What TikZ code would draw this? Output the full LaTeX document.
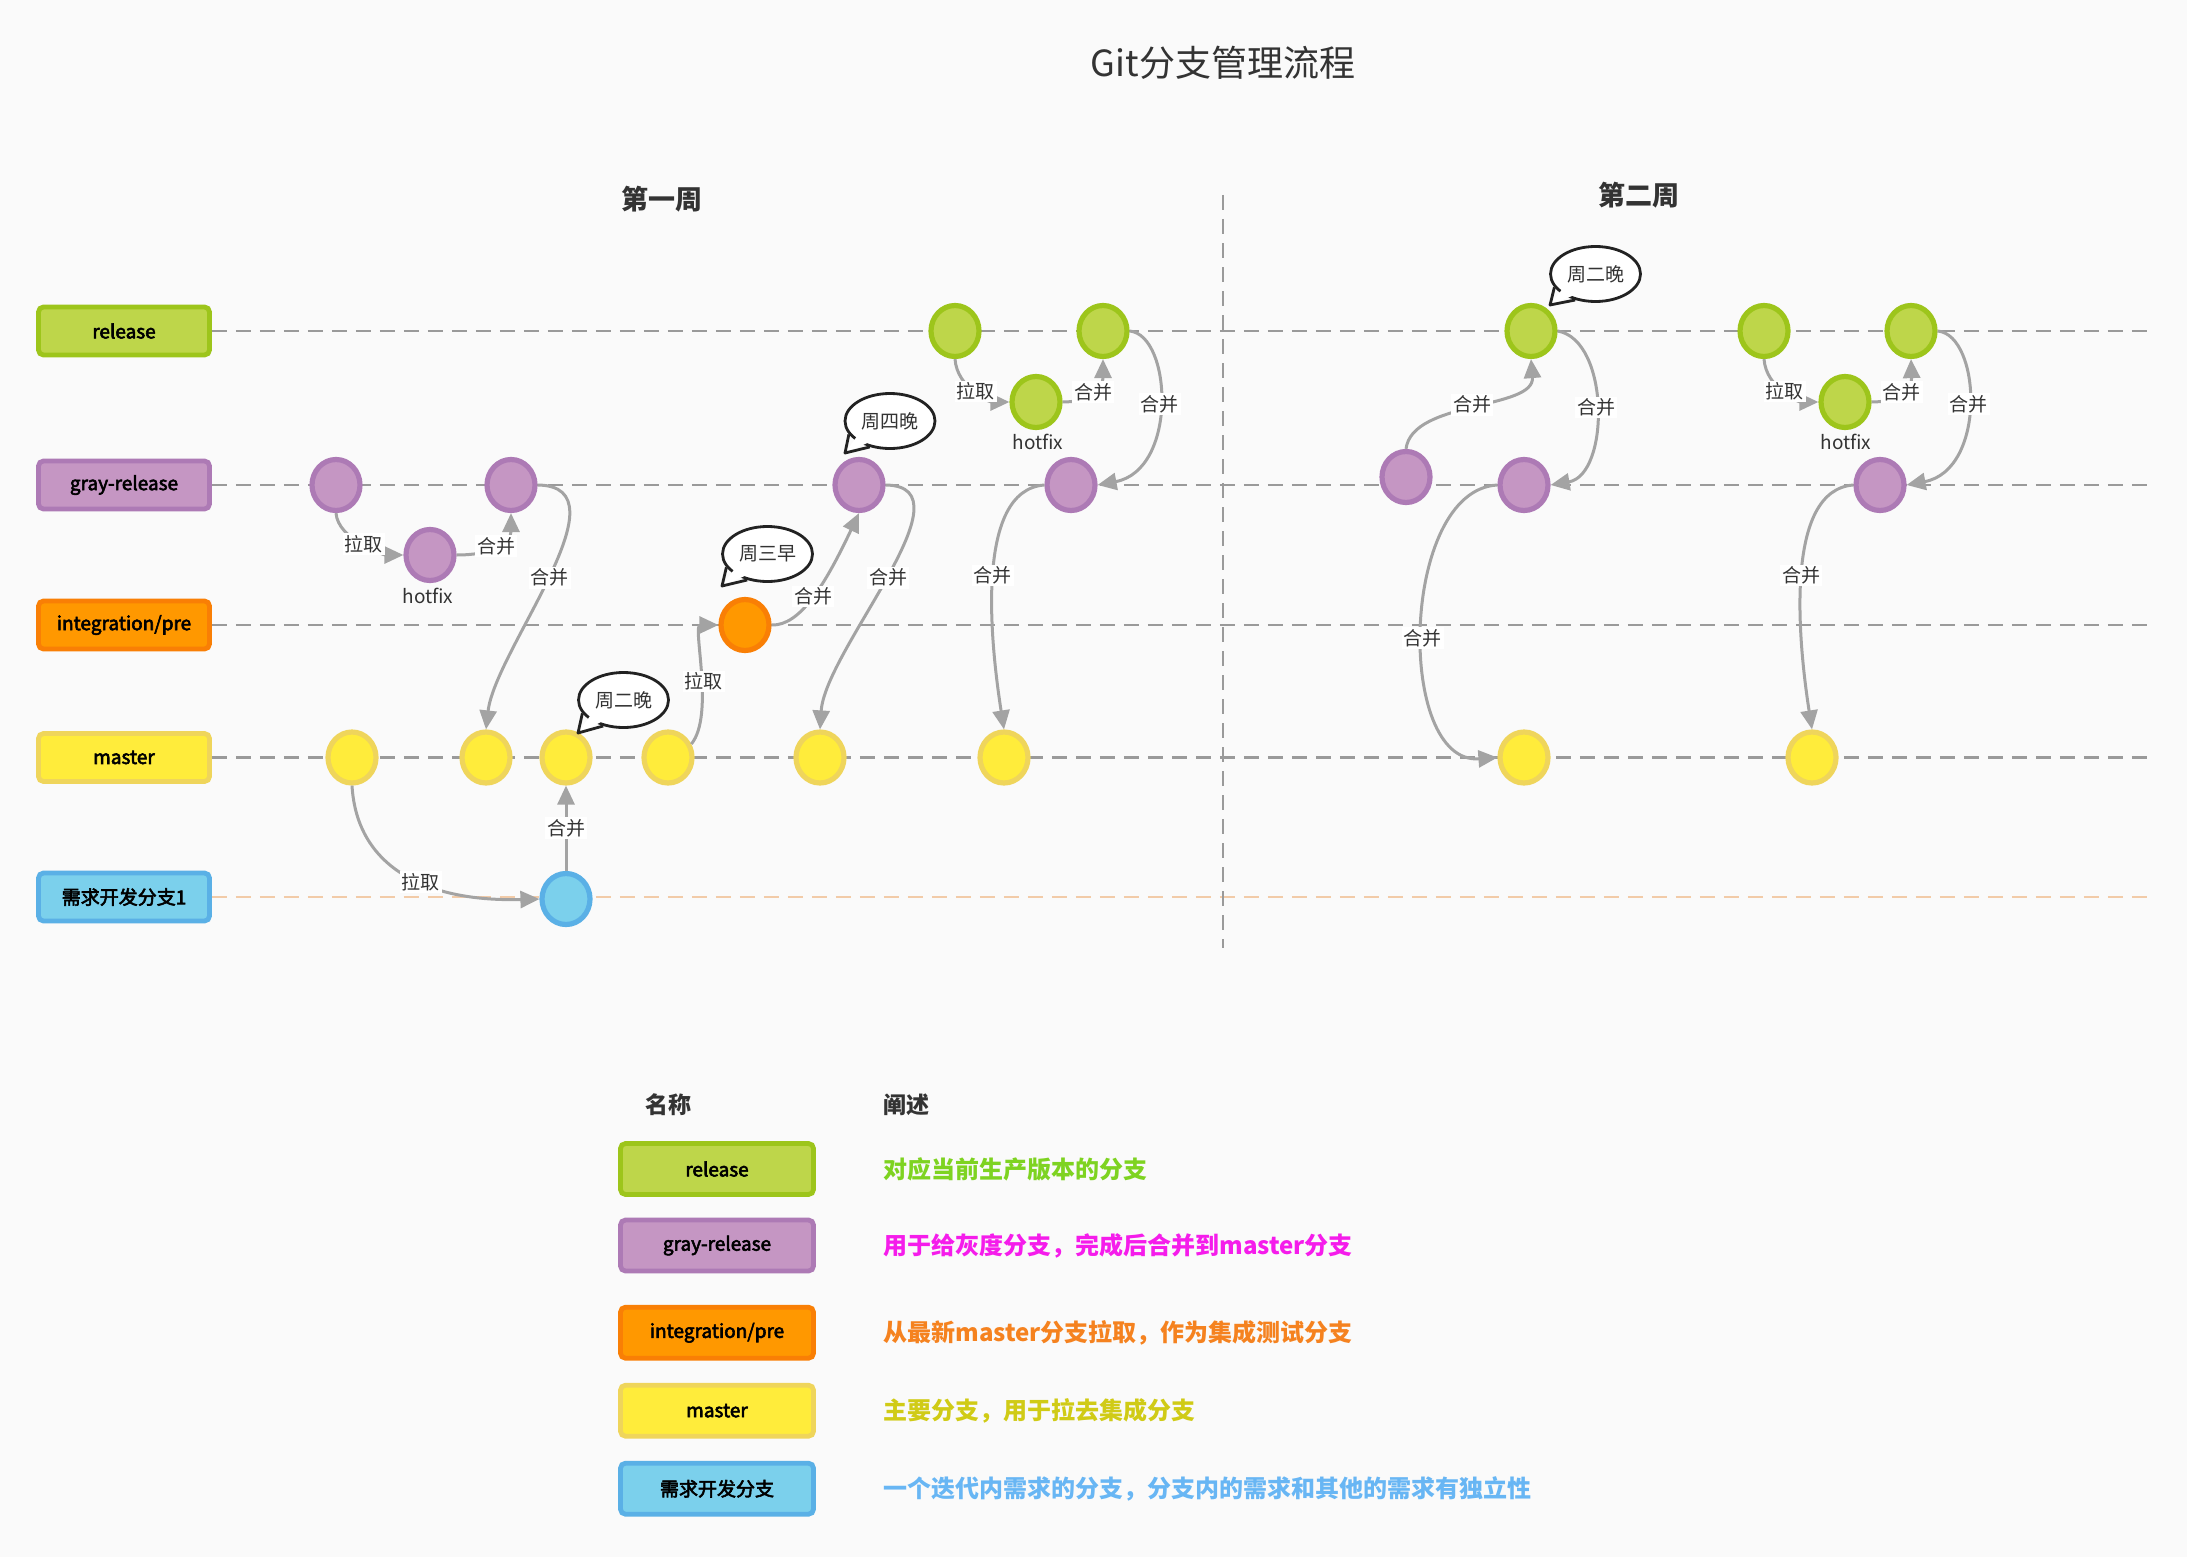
\documentclass[tikz,border=0pt]{standalone}
\usepackage{fontspec}
\setmainfont{Noto Sans CJK SC}
\newfontfamily\medfont{Noto Sans CJK SC}[FakeBold=3]
\usetikzlibrary{arrows.meta,shapes.geometric,calc}
\definecolor{bg}{HTML}{FAFAFA}
\definecolor{relF}{HTML}{BED64A}
\definecolor{relD}{HTML}{9DC51B}
\definecolor{grayF}{HTML}{C596C3}
\definecolor{grayD}{HTML}{AD7AB5}
\definecolor{intF}{HTML}{FF9800}
\definecolor{intD}{HTML}{F97F05}
\definecolor{masF}{HTML}{FFEC3B}
\definecolor{masD}{HTML}{EFD55B}
\definecolor{reqF}{HTML}{7BD0EC}
\definecolor{reqD}{HTML}{5AB0E6}
\definecolor{laneC}{HTML}{9A9A9A}
\definecolor{reqLane}{HTML}{F2CBA8}
\definecolor{arrC}{HTML}{A3A3A3}
\definecolor{txt}{HTML}{333333}
\definecolor{bubC}{HTML}{222222}
\definecolor{relT}{HTML}{7ED321}
\definecolor{grayT}{HTML}{F51CEB}
\definecolor{intT}{HTML}{F5821F}
\definecolor{masT}{HTML}{D0CB16}
\definecolor{reqT}{HTML}{68B6F4}
\begin{document}
\begin{tikzpicture}[x=0.5pt,y=-0.5pt,
  lanebox/.style={draw, rounded corners=2.5pt, line width=2.4pt, minimum width=85.5pt, minimum height=24pt, inner sep=0pt, font=\fontsize{9.5}{11}\selectfont\medfont, text=black},
  relbox/.style={lanebox, fill=relF, draw=relD},
  graybox/.style={lanebox, fill=grayF, draw=grayD},
  intbox/.style={lanebox, fill=intF, draw=intD},
  masbox/.style={lanebox, fill=masF, draw=masD},
  reqbox/.style={lanebox, fill=reqF, draw=reqD},
  legbox/.style={minimum width=96.5pt, minimum height=25.5pt},
  commit/.style={ellipse, line width=2.6pt, minimum width=24pt, minimum height=25.5pt, inner sep=0pt},
  relc/.style={commit, fill=relF, draw=relD},
  grayc/.style={commit, fill=grayF, draw=grayD},
  intc/.style={commit, fill=intF, draw=intD},
  masc/.style={commit, fill=masF, draw=masD},
  reqc/.style={commit, fill=reqF, draw=reqD},
  lane/.style={draw=laneC, line width=1.1pt, dash pattern=on 7.5pt off 4.5pt},
  reqlane/.style={draw=reqLane, line width=1.1pt, dash pattern=on 7.5pt off 4.5pt},
  conn/.style={draw=arrC, line width=1.5pt, -{Triangle[length=9.5pt,width=8.5pt]}},
  lbl/.style={fill=white, inner sep=1pt, font=\fontsize{9.5}{10}\selectfont, text=txt},
  hot/.style={font=\fontsize{9.5}{11}\selectfont, text=txt, inner sep=1pt},
  bubble/.style={ellipse, draw=bubC, fill=white, line width=1.4pt, minimum width=45pt, minimum height=27.5pt, inner sep=0pt, font=\fontsize{9.5}{11}\selectfont, text=txt},
  tailline/.style={draw=bubC, line width=1.4pt, line join=round},
  legtitle/.style={font=\fontsize{11.5}{13}\selectfont\bfseries, text=txt},
  desc/.style={anchor=west, inner sep=0pt, font=\fontsize{12}{14}\selectfont\bfseries},
  week/.style={font=\fontsize{13.5}{15}\selectfont\bfseries, text=txt}
]
\useasboundingbox (0,0) rectangle (2187,1557);
\fill[bg] (0,0) rectangle (2187,1557);

% title
\node[font=\fontsize{18}{20}\selectfont, text=txt] (title) at (1223,63) {Git分支管理流程};
\node[week] (w1) at (662,199) {第一周};
\node[week] (w2) at (1639,195) {第二周};

% lane labels
\node[relbox] (Lrel) at (124,331) {release};
\node[graybox] (Lgray) at (124,485) {gray-release};
\node[intbox] (Lint) at (124,625) {integration/pre};
\node[masbox] (Lmas) at (124,757.5) {master};
\node[reqbox] (Lreq) at (124,897) {需求开发分支1};

% lane lines
\coordinate (eRel) at (2150,331);
\coordinate (eGray) at (2150,485);
\coordinate (eInt) at (2150,625);
\coordinate (eMas) at (2150,757.5);
\coordinate (eReq) at (2150,897);
\draw[lane] (Lrel.east) -- (eRel);
\draw[lane] (Lgray.east) -- (eGray);
\draw[lane] (Lint.east) -- (eInt);
\draw[lane] (Lmas.east) -- (eMas);
\draw[reqlane] (Lreq.east) -- (eReq);

% divider
\coordinate (dT) at (1223,195);
\coordinate (dB) at (1223,948);
\draw[lane] (dT) -- (dB);

% commits
\node[relc] (R1) at (955,331) {};
\node[relc] (R2) at (1103,331) {};
\node[relc] (R3) at (1531,331) {};
\node[relc] (R4) at (1764,331) {};
\node[relc] (R5) at (1911,331) {};
\node[relc] (RH1) at (1036,402) {};
\node[relc] (RH2) at (1845,402) {};
\node[grayc] (G1) at (336,485) {};
\node[grayc] (G2) at (511,485) {};
\node[grayc] (G3) at (859,485) {};
\node[grayc] (G4) at (1071,485) {};
\node[grayc] (G5) at (1406,477) {};
\node[grayc] (G6) at (1524,485) {};
\node[grayc] (G7) at (1880,485) {};
\node[grayc] (GH1) at (430,555) {};
\node[intc] (I1) at (745,625) {};
\node[masc] (M1) at (352,757.5) {};
\node[masc] (M2) at (486,757.5) {};
\node[masc] (M3) at (566,757.5) {};
\node[masc] (M4) at (668,757.5) {};
\node[masc] (M5) at (820,757.5) {};
\node[masc] (M6) at (1004,757.5) {};
\node[masc] (M7) at (1524,757.5) {};
\node[masc] (M8) at (1812,757.5) {};
\node[reqc] (F1) at (566,899) {};

% hotfix labels
\node[hot] (hf1) at (428,596) {hotfix};
\node[hot] (hf2) at (1038,442) {hotfix};
\node[hot] (hf3) at (1846,442) {hotfix};

% connectors week 1
\draw[conn] (G1.south) .. controls (338,540) and (385,555) .. (GH1.west) node[lbl,pos=.5] (c1) {拉取};
\draw[conn] (GH1.east) .. controls (490,555) and (511,545) .. (G2.south) node[lbl,pos=.5] (c2) {合并};
\draw[conn] (G2.east) .. controls (630,486) and (495,650) .. (M2.north) node[lbl,pos=.5] (c3) {合并};
\draw[conn] (M1.south) .. controls (357,870) and (430,902) .. (F1.west) node[lbl,pos=.57] (c4) {拉取};
\draw[conn] (F1.north) -- (M3.south) node[lbl,pos=.5] (c5) {合并};
\draw[conn] (M4.30) .. controls (715,715) and (692,625) .. (I1.west) node[lbl,pos=.45] (c6) {拉取};
\draw[conn] (I1.east) .. controls (800,626) and (825,585) .. (G3.south) node[lbl,pos=.5] (c7) {合并};
\draw[conn] (G3.east) .. controls (975,486) and (825,650) .. (M5.north) node[lbl,pos=.5] (c8) {合并};
\draw[conn] (R1.south) .. controls (957,388) and (990,402) .. (RH1.west) node[lbl,pos=.5] (c9) {拉取};
\draw[conn] (RH1.east) .. controls (1090,402) and (1103,390) .. (R2.south) node[lbl,pos=.5] (c10) {合并};
\draw[conn] (R2.east) .. controls (1172,335) and (1178,470) .. (G4.east) node[lbl,pos=.5] (c11) {合并};
\draw[conn] (G4.west) .. controls (975,490) and (990,640) .. (M6.north) node[lbl,pos=.5] (c12) {合并};

% connectors week 2
\draw[conn] (G5.north) .. controls (1412,400) and (1535,410) .. (R3.south) node[lbl,pos=.5] (c13) {合并};
\draw[conn] (R3.east) .. controls (1610,340) and (1610,475) .. (G6.east) node[lbl,pos=.5] (c14) {合并};
\draw[conn] (G6.west) .. controls (1400,490) and (1395,765) .. (M7.west) node[lbl,pos=.53] (c15) {合并};
\draw[conn] (R4.south) .. controls (1766,388) and (1799,402) .. (RH2.west) node[lbl,pos=.5] (c16) {拉取};
\draw[conn] (RH2.east) .. controls (1899,402) and (1912,390) .. (R5.south) node[lbl,pos=.5] (c17) {合并};
\draw[conn] (R5.east) .. controls (1981,335) and (1987,470) .. (G7.east) node[lbl,pos=.5] (c18) {合并};
\draw[conn] (G7.west) .. controls (1784,490) and (1798,640) .. (M8.north) node[lbl,pos=.5] (c19) {合并};

% bubbles
\node[bubble] (b1) at (623.5,700) {周二晚};
\node[bubble] (b2) at (767.5,554) {周三早};
\node[bubble] (b3) at (890,421) {周四晚};
\node[bubble] (b4) at (1595.5,274) {周二晚};
\coordinate (t1) at (578,733);
\coordinate (t2) at (722,586);
\coordinate (t3) at (845,453);
\coordinate (t4) at (1550,305);
\foreach \b/\t in {b1/t1,b2/t2,b3/t3,b4/t4}{
  \fill[white] ($(\b.-162)!0.3!(\b.center)$) -- (\t) -- ($(\b.-128)!0.3!(\b.center)$) -- cycle;
  \draw[tailline] (\b.-162) -- (\t) -- (\b.-128);
}

% legend
\node[legtitle] (hN) at (668,1105) {名称};
\node[legtitle, anchor=west, inner sep=0pt] (hD) at (883,1105) {阐述};
\node[relbox, legbox] (K1) at (717,1169) {release};
\node[graybox, legbox] (K2) at (717,1245.5) {gray-release};
\node[intbox, legbox] (K3) at (717,1332.7) {integration/pre};
\node[masbox, legbox] (K4) at (717,1410.7) {master};
\node[reqbox, legbox] (K5) at (717,1488.7) {需求开发分支};
\node[desc, text=relT] (D1) at (883,1169) {对应当前生产版本的分支};
\node[desc, text=grayT] (D2) at (883,1245.5) {用于给灰度分支，完成后合并到master分支};
\node[desc, text=intT] (D3) at (883,1332.7) {从最新master分支拉取，作为集成测试分支};
\node[desc, text=masT] (D4) at (883,1410.7) {主要分支，用于拉去集成分支};
\node[desc, text=reqT] (D5) at (883,1488.7) {一个迭代内需求的分支，分支内的需求和其他的需求有独立性};
\end{tikzpicture}
\end{document}
